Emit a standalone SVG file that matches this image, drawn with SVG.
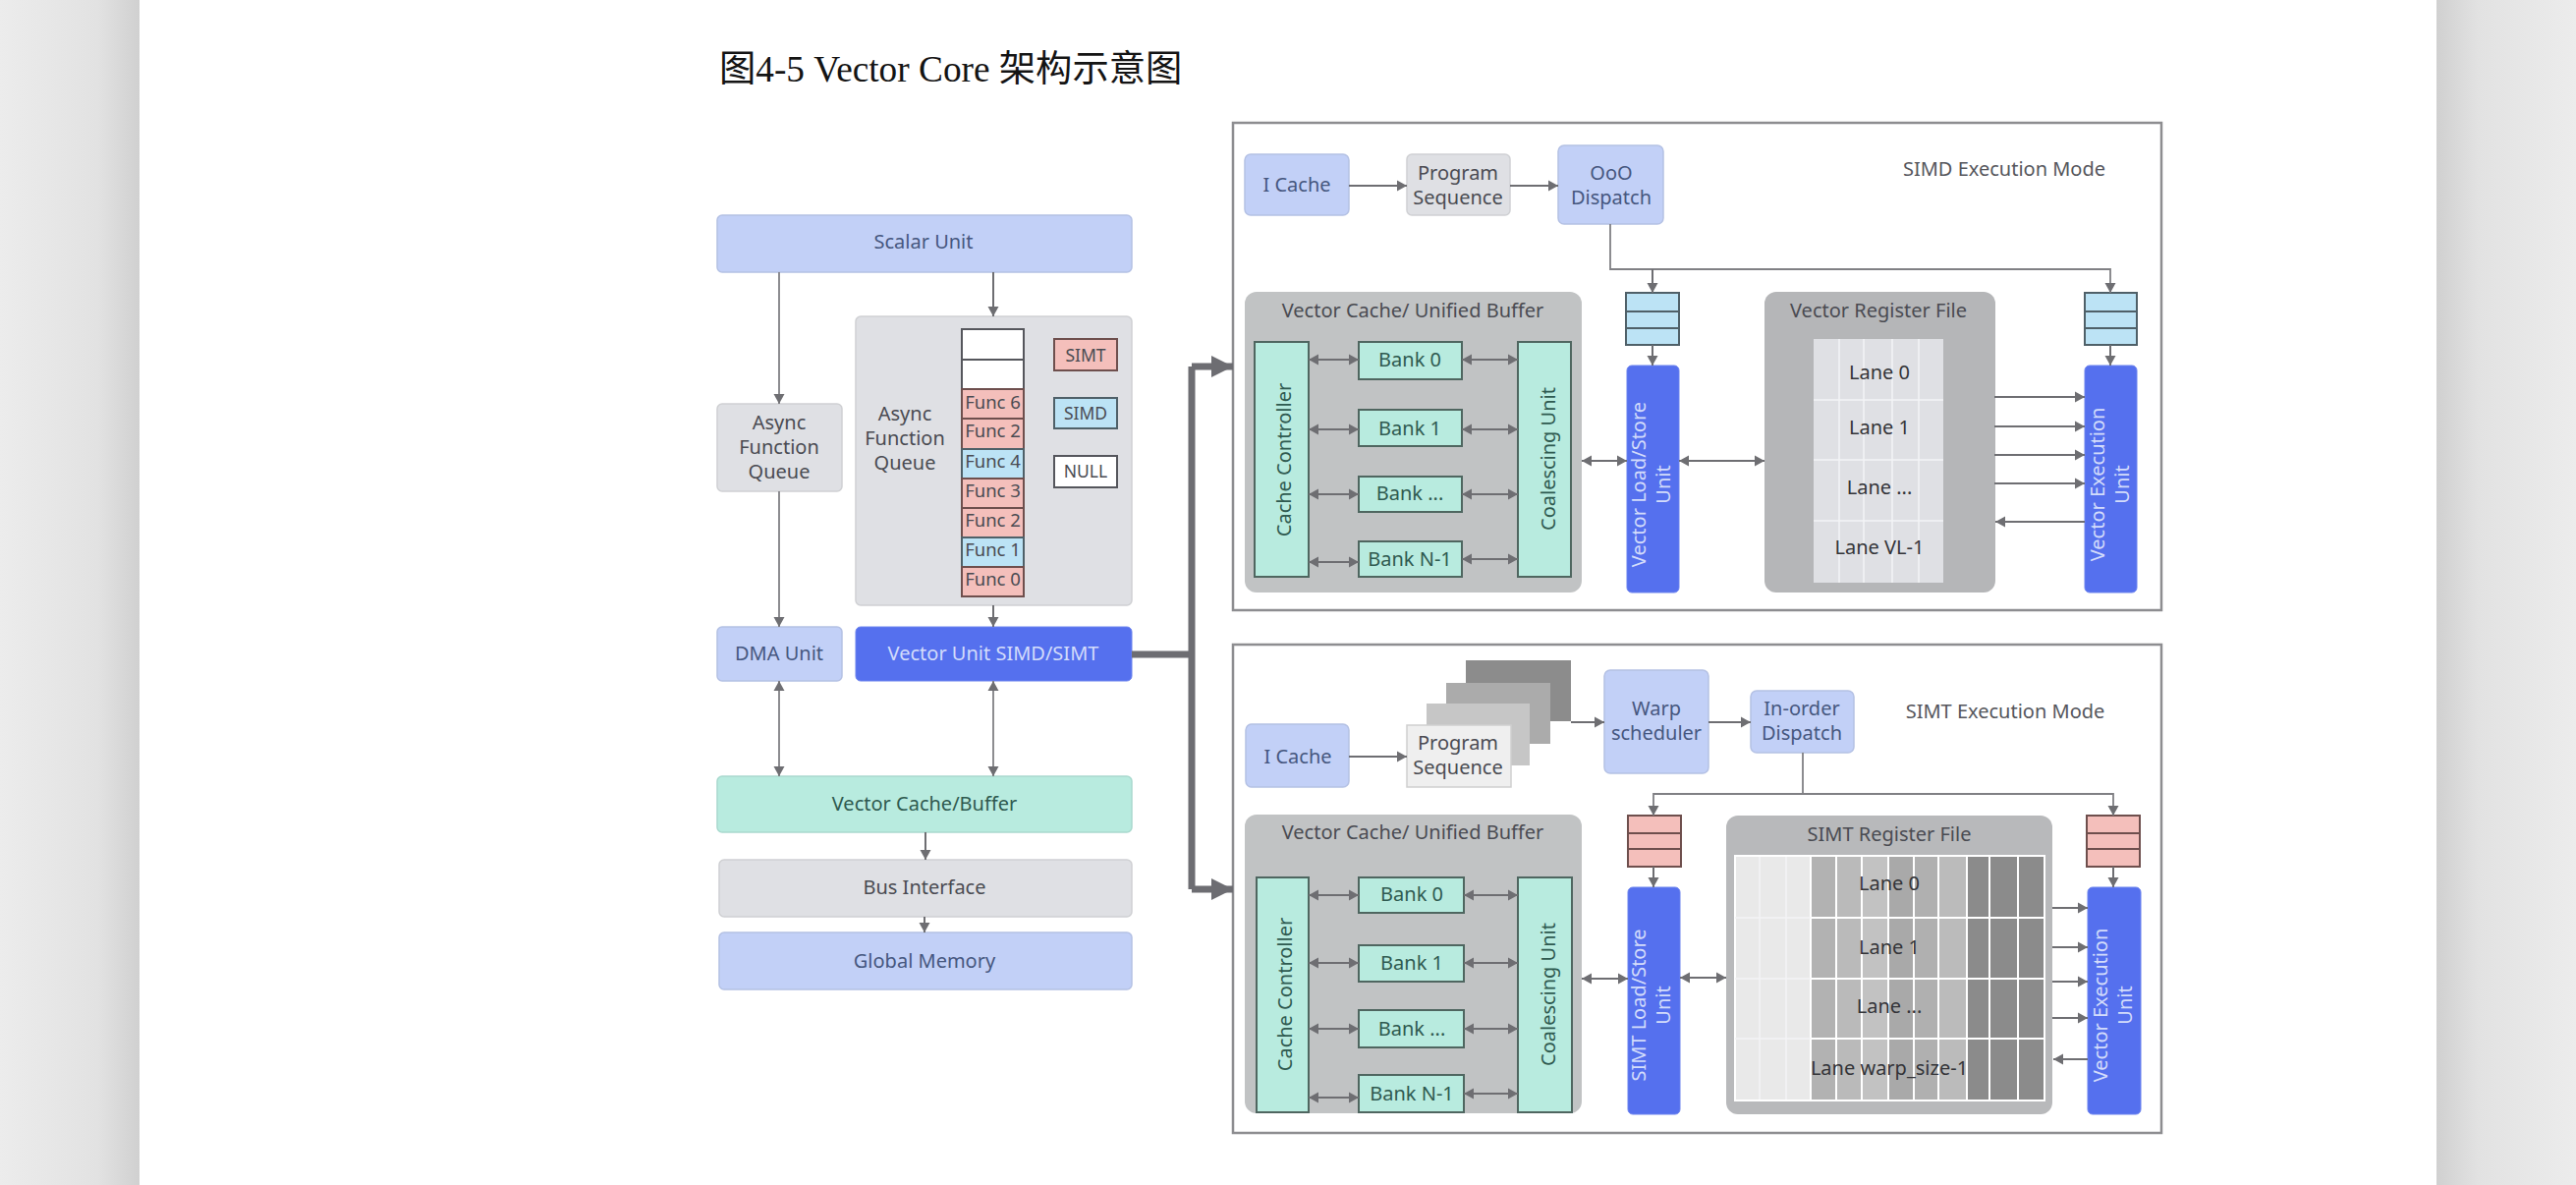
<svg xmlns="http://www.w3.org/2000/svg" width="2622" height="1206" viewBox="0 0 2622 1206">
<style>
text{font-family:"Noto Sans","Noto Sans CJK SC",sans-serif;font-size:20px;text-anchor:middle;fill:#4a4b52}
.title{font-family:"Liberation Serif","Noto Sans CJK SC",serif;font-size:37.3px;text-anchor:start;fill:#141414}
.b{fill:#c2d0f7;stroke:#b4c1e4;stroke-width:1.5}
.g{fill:#dfe0e4;stroke:#cfd0d3;stroke-width:1.5}
.t{fill:#b8ebdf;stroke:#a9d9ce;stroke-width:1.5}
.d{fill:#5570ee;stroke:#6b82ee;stroke-width:1}
.tb{fill:#b8ebdf;stroke:#4f6660;stroke-width:2}
.grp{fill:#c1c3c4}
.reg{fill:#b5b6b8}
.panel{fill:#fff;stroke:#8d8d90;stroke-width:2.5}
.tq{fill:#bce3f5;stroke:#4f6068;stroke-width:2}
.pq{fill:#f4bfbb;stroke:#6e4f4d;stroke-width:2}
.nq{fill:#fff;stroke:#55565c;stroke-width:2}
.tblue{fill:#46577f}
.tgreen{fill:#2f5a50}
.twhite{fill:#d3dcfb}
.tdark{fill:#333438}
.small{font-size:18.5px}
.leg{font-size:17.5px}
.mode{font-size:20px;fill:#55565c}
.grid{stroke:#fff;stroke-width:2;fill:none}
.faint{stroke:#f4f4f6;stroke-width:1.5;fill:none}
#connectors path{fill:none;stroke:#6e6e72;stroke-width:2}
#connectors .thin{stroke:#808084;stroke-width:1.8}
#connectors .thick{stroke:#6d6d72;stroke-width:7;stroke-linejoin:round}
</style>
<defs>
<linearGradient id="sideL" x1="0" x2="1" y1="0" y2="0"><stop offset="0" stop-color="#ececec"/><stop offset="0.7" stop-color="#e2e2e2"/><stop offset="1" stop-color="#d0d0d0"/></linearGradient>
<linearGradient id="sideR" x1="0" x2="1" y1="0" y2="0"><stop offset="0" stop-color="#d0d0d0"/><stop offset="0.3" stop-color="#e2e2e2"/><stop offset="1" stop-color="#ececec"/></linearGradient>
<marker id="a" markerUnits="userSpaceOnUse" markerWidth="12" markerHeight="12" refX="11" refY="6" orient="auto"><path d="M1 .5 L11 6 L1 11.5 Z" fill="#6e6e72"/></marker>
<marker id="s" markerUnits="userSpaceOnUse" markerWidth="12" markerHeight="12" refX="1" refY="6" orient="auto"><path d="M11 .5 L1 6 L11 11.5 Z" fill="#6e6e72"/></marker>
<marker id="big" markerUnits="userSpaceOnUse" markerWidth="24" markerHeight="24" refX="22" refY="12" orient="auto"><path d="M0 1 L22 12 L0 23 Z" fill="#6d6d72"/></marker>
</defs>
<rect width="2622" height="1206" fill="#fff"/>
<rect x="0" y="0" width="142" height="1206" fill="url(#sideL)"/>
<rect x="2480" y="0" width="142" height="1206" fill="url(#sideR)"/>
<text id="figure-title" class="title" x="732" y="83">图4-5 Vector Core 架构示意图</text>

<rect id="simd-panel" class="panel" x="1255" y="125" width="945" height="496"/>
<rect id="simt-panel" class="panel" x="1255" y="656" width="945" height="497"/>

<g id="scalar-unit"><rect class="b" x="730" y="219" width="422" height="58" rx="5"/><text class="tblue" x="940" y="253">Scalar Unit</text></g>
<g id="async-queue-left"><rect class="g" x="730" y="411" width="127" height="89" rx="5"/><text x="793" y="437">Async</text><text x="793" y="462">Function</text><text x="793" y="487">Queue</text></g>
<g id="async-queue-main"><rect class="g" x="871" y="322" width="281" height="294" rx="5"/><text x="921" y="428">Async</text><text x="921" y="453">Function</text><text x="921" y="478">Queue</text></g>
<g id="queue-stack">
<rect class="nq" x="979" y="335" width="63" height="31"/><rect class="nq" x="979" y="366" width="63" height="30"/>
<rect class="pq" x="979" y="396" width="63" height="30"/><text class="small" x="1010.500" y="416">Func 6</text>
<rect class="pq" x="979" y="426" width="63" height="31"/><text class="small" x="1010.500" y="445">Func 2</text>
<rect class="tq" x="979" y="457" width="63" height="30"/><text class="small" x="1010.500" y="476">Func 4</text>
<rect class="pq" x="979" y="487" width="63" height="30"/><text class="small" x="1010.500" y="506">Func 3</text>
<rect class="pq" x="979" y="517" width="63" height="30"/><text class="small" x="1010.500" y="536">Func 2</text>
<rect class="tq" x="979" y="547" width="63" height="30"/><text class="small" x="1010.500" y="566">Func 1</text>
<rect class="pq" x="979" y="577" width="63" height="30"/><text class="small" x="1010.500" y="596">Func 0</text>
</g>
<g id="legend-simt"><rect class="pq" x="1073" y="345" width="64" height="32"/><text class="leg" x="1105" y="368">SIMT</text></g>
<g id="legend-simd"><rect class="tq" x="1073" y="405" width="64" height="31"/><text class="leg" x="1105" y="427">SIMD</text></g>
<g id="legend-null"><rect class="nq" x="1073" y="464" width="64" height="32"/><text class="leg" x="1105" y="486">NULL</text></g>
<g id="dma-unit"><rect class="b" x="730" y="638" width="127" height="55" rx="5"/><text class="tblue" x="793" y="672">DMA Unit</text></g>
<g id="vector-unit"><rect class="d" x="871" y="638" width="281" height="55" rx="5"/><text class="twhite" x="1011" y="672">Vector Unit SIMD/SIMT</text></g>
<g id="vector-cache-buffer"><rect class="t" x="730" y="790" width="422" height="57" rx="5"/><text class="tgreen" x="941" y="825">Vector Cache/Buffer</text></g>
<g id="bus-interface"><rect class="g" x="732" y="875" width="420" height="58" rx="5"/><text x="941" y="910">Bus Interface</text></g>
<g id="global-memory"><rect class="b" x="732" y="949" width="420" height="58" rx="5"/><text class="tblue" x="941" y="985">Global Memory</text></g>

<g id="simd-icache"><rect class="b" x="1267" y="157" width="106" height="62" rx="6"/><text class="tblue" x="1320" y="195">I Cache</text></g>
<g id="simd-program-sequence"><rect class="g" x="1432" y="157" width="105" height="62" rx="5"/><text x="1484" y="183">Program</text><text x="1484" y="208">Sequence</text></g>
<g id="simd-ooo-dispatch"><rect class="b" x="1586" y="148" width="107" height="80" rx="6"/><text class="tblue" x="1640" y="183">OoO</text><text class="tblue" x="1640" y="208">Dispatch</text></g>
<g id="simd-queue-ls"><rect class="tq" x="1655" y="298" width="54" height="53"/><path class="tq" d="M1655 317H1709M1655 334H1709"/></g>
<g id="simd-queue-ex"><rect class="tq" x="2122" y="298" width="53" height="53"/><path class="tq" d="M2122 317H2175M2122 334H2175"/></g>
<g id="simd-load-store"><rect class="d" x="1656" y="372" width="53" height="231" rx="5"/><text class="twhite" transform="translate(1675 493) rotate(-90)">Vector Load/Store</text><text class="twhite" transform="translate(1700 493) rotate(-90)">Unit</text></g>
<g id="simd-execution"><rect class="d" x="2122" y="372" width="53" height="231" rx="5"/><text class="twhite" transform="translate(2142 493) rotate(-90)">Vector Execution</text><text class="twhite" transform="translate(2167 493) rotate(-90)">Unit</text></g>
<g id="simd-cache-group"><rect class="grp" x="1267" y="297" width="343" height="306" rx="12"/><text x="1438" y="323">Vector Cache/ Unified Buffer</text></g>
<g id="simd-cache-controller"><rect class="tb" x="1277" y="348" width="55" height="239"/><text class="tgreen" transform="translate(1314 468) rotate(-90)">Cache Controller</text></g>
<g id="simd-coalescing"><rect class="tb" x="1545" y="348" width="54" height="239"/><text class="tgreen" transform="translate(1583 467) rotate(-90)">Coalescing Unit</text></g>
<g id="simd-bank-0"><rect class="tb" x="1383" y="348" width="105" height="38"/><text class="tgreen" x="1435" y="373">Bank 0</text></g>
<g id="simd-bank-1"><rect class="tb" x="1383" y="417" width="105" height="37"/><text class="tgreen" x="1435" y="443">Bank 1</text></g>
<g id="simd-bank-x"><rect class="tb" x="1383" y="485" width="105" height="36"/><text class="tgreen" x="1435" y="509">Bank ...</text></g>
<g id="simd-bank-n"><rect class="tb" x="1383" y="551" width="105" height="36"/><text class="tgreen" x="1435" y="576">Bank N-1</text></g>
<g id="simd-register-file"><rect class="reg" x="1796" y="297" width="235" height="306" rx="12"/><text x="1912" y="323">Vector Register File</text>
<rect x="1846" y="345" width="132" height="248" fill="#dfe0e4"/>
<path class="faint" d="M1872 345V593M1897 345V593M1926 345V593M1953 345V593M1846 407H1978M1846 468H1978M1846 530H1978"/>
<text class="tdark" x="1913" y="386">Lane 0</text><text class="tdark" x="1913" y="442">Lane 1</text><text class="tdark" x="1913" y="503">Lane ...</text><text class="tdark" x="1913" y="564">Lane VL-1</text></g>
<text id="simd-mode" class="mode" x="2040" y="179">SIMD Execution Mode</text>

<g id="simt-icache"><rect class="b" x="1268" y="737" width="105" height="64" rx="6"/><text class="tblue" x="1321" y="777">I Cache</text></g>
<g id="simt-program-sequence">
<rect x="1492" y="672" width="107" height="62" fill="#8c8c8c"/>
<rect x="1472" y="695" width="106" height="62" fill="#ababab"/>
<rect x="1452" y="716" width="105" height="63" fill="#c6c6c6"/>
<rect x="1432" y="738" width="106" height="63" fill="#efefef" stroke="#cfcfcf" stroke-width="1.500"/>
<text x="1484" y="763">Program</text><text x="1484" y="788">Sequence</text></g>
<g id="simt-warp-scheduler"><rect class="b" x="1633" y="682" width="106" height="105" rx="6"/><text class="tblue" x="1686" y="728">Warp</text><text class="tblue" x="1686" y="753">scheduler</text></g>
<g id="simt-inorder-dispatch"><rect class="b" x="1782" y="703" width="105" height="63" rx="6"/><text class="tblue" x="1834" y="728">In-order</text><text class="tblue" x="1834" y="753">Dispatch</text></g>
<g id="simt-queue-ls"><rect class="pq" x="1657" y="830" width="54" height="52"/><path class="pq" d="M1657 848H1711M1657 864H1711"/></g>
<g id="simt-queue-ex"><rect class="pq" x="2124" y="830" width="54" height="52"/><path class="pq" d="M2124 848H2178M2124 864H2178"/></g>
<g id="simt-load-store"><rect class="d" x="1657" y="903" width="53" height="231" rx="5"/><text class="twhite" transform="translate(1675 1023) rotate(-90)">SIMT Load/Store</text><text class="twhite" transform="translate(1700 1023) rotate(-90)">Unit</text></g>
<g id="simt-execution"><rect class="d" x="2125" y="903" width="54" height="231" rx="5"/><text class="twhite" transform="translate(2145 1023) rotate(-90)">Vector Execution</text><text class="twhite" transform="translate(2170 1023) rotate(-90)">Unit</text></g>
<g id="simt-cache-group"><rect class="grp" x="1267" y="829" width="343" height="304" rx="12"/><text x="1438" y="854">Vector Cache/ Unified Buffer</text></g>
<g id="simt-cache-controller"><rect class="tb" x="1279" y="893" width="53" height="239"/><text class="tgreen" transform="translate(1315 1012) rotate(-90)">Cache Controller</text></g>
<g id="simt-coalescing"><rect class="tb" x="1545" y="893" width="55" height="239"/><text class="tgreen" transform="translate(1583 1012) rotate(-90)">Coalescing Unit</text></g>
<g id="simt-bank-0"><rect class="tb" x="1383" y="893" width="107" height="36"/><text class="tgreen" x="1437" y="917">Bank 0</text></g>
<g id="simt-bank-1"><rect class="tb" x="1383" y="962" width="107" height="37"/><text class="tgreen" x="1437" y="987">Bank 1</text></g>
<g id="simt-bank-x"><rect class="tb" x="1383" y="1028" width="107" height="38"/><text class="tgreen" x="1437" y="1054">Bank ...</text></g>
<g id="simt-bank-n"><rect class="tb" x="1383" y="1094" width="107" height="38"/><text class="tgreen" x="1437" y="1120">Bank N-1</text></g>
<g id="simt-register-file"><rect x="1757" y="830" width="332" height="304" rx="12" fill="#b8b9bb"/><text x="1923" y="856">SIMT Register File</text>
<rect x="1766" y="871" width="77" height="249" fill="#e9e9e9"/>
<rect x="1843" y="871" width="26" height="249" fill="#b2b2b2"/>
<rect x="1869" y="871" width="26" height="249" fill="#bababa"/>
<rect x="1895" y="871" width="27" height="249" fill="#c2c2c2"/>
<rect x="1922" y="871" width="26" height="249" fill="#a9a9a9"/>
<rect x="1948" y="871" width="25" height="249" fill="#b0b0b0"/>
<rect x="1973" y="871" width="29" height="249" fill="#bbb"/>
<rect x="2002" y="871" width="79" height="249" fill="#8b8b8b"/>
<path class="faint" d="M1791 871V1120M1818 871V1120"/>
<path class="grid" d="M1766 871H2081V1120H1766ZM1843 871V1120M1869 871V1120M1895 871V1120M1922 871V1120M1948 871V1120M1973 871V1120M2002 871V1120M2025 871V1120M2054 871V1120M1843 934H2081M1843 996H2081M1843 1057H2081"/>
<path class="faint" d="M1766 934H1843M1766 996H1843M1766 1057H1843"/>
<text class="tdark" x="1923" y="906">Lane 0</text><text class="tdark" x="1923" y="971">Lane 1</text><text class="tdark" x="1923" y="1031">Lane ...</text><text class="tdark" x="1923" y="1094">Lane warp_size-1</text></g>
<text id="simt-mode" class="mode" x="2041" y="731">SIMT Execution Mode</text>

<g id="connectors">
<path class="thin" d="M793 277V411" marker-end="url(#a)"/>
<path d="M1011 277V322" marker-end="url(#a)"/>
<path class="thin" d="M793 500V638" marker-end="url(#a)"/>
<path d="M1011 616V638" marker-end="url(#a)"/>
<path class="thin" d="M793 693V790" marker-start="url(#s)" marker-end="url(#a)"/>
<path class="thin" d="M1011 693V790" marker-start="url(#s)" marker-end="url(#a)"/>
<path d="M942 847V875" marker-end="url(#a)"/>
<path d="M941 933V949" marker-end="url(#a)"/>
<path class="thick" d="M1152 666H1213"/>
<path class="thick" d="M1213 373V905"/>
<path class="thick" d="M1213 373H1255" marker-end="url(#big)"/>
<path class="thick" d="M1213 905H1255" marker-end="url(#big)"/>

<path d="M1373 189H1432" marker-end="url(#a)"/>
<path d="M1537 189H1586" marker-end="url(#a)"/>
<path class="thin" d="M1639 228V274H2148V298" marker-end="url(#a)"/>
<path d="M1682 274V298" marker-end="url(#a)"/>
<path d="M1682 351V372" marker-end="url(#a)"/>
<path d="M2148 351V372" marker-end="url(#a)"/>
<path d="M1332 366H1383" marker-start="url(#s)" marker-end="url(#a)"/>
<path d="M1332 437H1383" marker-start="url(#s)" marker-end="url(#a)"/>
<path d="M1332 503H1383" marker-start="url(#s)" marker-end="url(#a)"/>
<path d="M1332 572H1383" marker-start="url(#s)" marker-end="url(#a)"/>
<path d="M1488 366H1545" marker-start="url(#s)" marker-end="url(#a)"/>
<path d="M1488 437H1545" marker-start="url(#s)" marker-end="url(#a)"/>
<path d="M1488 503H1545" marker-start="url(#s)" marker-end="url(#a)"/>
<path d="M1488 569H1545" marker-start="url(#s)" marker-end="url(#a)"/>
<path d="M1610 469H1656" marker-start="url(#s)" marker-end="url(#a)"/>
<path d="M1709 469H1796" marker-start="url(#s)" marker-end="url(#a)"/>
<path d="M2030 404H2122" marker-end="url(#a)"/>
<path d="M2030 434H2122" marker-end="url(#a)"/>
<path d="M2030 463H2122" marker-end="url(#a)"/>
<path d="M2030 492H2122" marker-end="url(#a)"/>
<path d="M2122 531H2031" marker-end="url(#a)"/>

<path d="M1373 770H1432" marker-end="url(#a)"/>
<path d="M1599 735H1633" marker-end="url(#a)"/>
<path d="M1739 735H1782" marker-end="url(#a)"/>
<path class="thin" d="M1835 766V808"/>
<path class="thin" d="M1683 830V808H2151V830" marker-start="url(#s)" marker-end="url(#a)"/>
<path d="M1683 882V903" marker-end="url(#a)"/>
<path d="M2151 882V903" marker-end="url(#a)"/>
<path d="M1332 911H1383" marker-start="url(#s)" marker-end="url(#a)"/>
<path d="M1332 980H1383" marker-start="url(#s)" marker-end="url(#a)"/>
<path d="M1332 1047H1383" marker-start="url(#s)" marker-end="url(#a)"/>
<path d="M1332 1117H1383" marker-start="url(#s)" marker-end="url(#a)"/>
<path d="M1490 911H1545" marker-start="url(#s)" marker-end="url(#a)"/>
<path d="M1490 980H1545" marker-start="url(#s)" marker-end="url(#a)"/>
<path d="M1490 1047H1545" marker-start="url(#s)" marker-end="url(#a)"/>
<path d="M1490 1113H1545" marker-start="url(#s)" marker-end="url(#a)"/>
<path d="M1610 996H1657" marker-start="url(#s)" marker-end="url(#a)"/>
<path d="M1710 995H1757" marker-start="url(#s)" marker-end="url(#a)"/>
<path d="M2089 924H2125" marker-end="url(#a)"/>
<path d="M2089 964H2125" marker-end="url(#a)"/>
<path d="M2089 999H2125" marker-end="url(#a)"/>
<path d="M2089 1036H2125" marker-end="url(#a)"/>
<path d="M2125 1078H2090" marker-end="url(#a)"/>
</g>
</svg>
